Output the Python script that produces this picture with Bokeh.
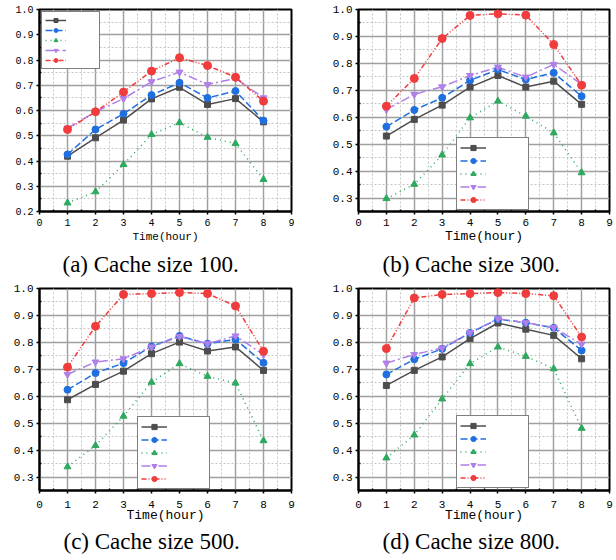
from bokeh.plotting import figure
from bokeh.models import FixedTicker, Legend, LegendItem, Title, PrintfTickFormatter, Range1d
from bokeh.layouts import column, row
from bokeh.embed import file_html
from bokeh.resources import INLINE

hours = [1, 2, 3, 4, 5, 6, 7, 8]
x_ticks = [0, 1, 2, 3, 4, 5, 6, 7, 8, 9]
x_label = "Time(hour)"

# (a) Cache size 100
a_gray = [0.419, 0.492, 0.562, 0.646, 0.692, 0.624, 0.647, 0.555]
a_blue = [0.426, 0.525, 0.587, 0.661, 0.710, 0.650, 0.677, 0.560]
a_green = [0.234, 0.278, 0.386, 0.505, 0.552, 0.494, 0.469, 0.327]
a_purple = [0.530, 0.595, 0.647, 0.714, 0.752, 0.703, 0.727, 0.650]
a_red = [0.525, 0.595, 0.673, 0.756, 0.809, 0.778, 0.732, 0.637]

# (b) Cache size 300
b_gray = [0.530, 0.592, 0.645, 0.712, 0.755, 0.712, 0.734, 0.648]
b_blue = [0.565, 0.627, 0.672, 0.737, 0.777, 0.740, 0.765, 0.678]
b_green = [0.298, 0.351, 0.460, 0.598, 0.660, 0.604, 0.542, 0.394]
b_purple = [0.629, 0.685, 0.713, 0.755, 0.786, 0.749, 0.796, 0.722]
b_red = [0.641, 0.744, 0.892, 0.978, 0.984, 0.979, 0.870, 0.719]

# (c) Cache size 500
c_gray = [0.587, 0.644, 0.693, 0.758, 0.801, 0.768, 0.783, 0.696]
c_blue = [0.624, 0.686, 0.723, 0.785, 0.824, 0.795, 0.811, 0.724]
c_green = [0.338, 0.417, 0.526, 0.652, 0.721, 0.674, 0.649, 0.435]
c_purple = [0.681, 0.727, 0.739, 0.783, 0.822, 0.795, 0.824, 0.755]
c_red = [0.708, 0.860, 0.978, 0.981, 0.985, 0.981, 0.935, 0.767]

# (d) Cache size 800
d_gray = [0.640, 0.696, 0.746, 0.814, 0.872, 0.849, 0.826, 0.739]
d_blue = [0.681, 0.737, 0.776, 0.835, 0.886, 0.873, 0.854, 0.770]
d_green = [0.371, 0.456, 0.590, 0.721, 0.783, 0.748, 0.702, 0.481]
d_purple = [0.723, 0.755, 0.779, 0.836, 0.888, 0.873, 0.855, 0.793]
d_red = [0.777, 0.965, 0.978, 0.981, 0.985, 0.981, 0.973, 0.820]

captions = ["(a) Cache size 100.", "(b) Cache size 300.",
            "(c) Cache size 500.", "(d) Cache size 800."]

STYLES = [
    dict(color="#4d4d4d", dash="solid", marker="square", size=6),
    dict(color="#1f6fe0", dash="7 3", marker="circle", size=7),
    dict(color="#2fa860", dash="1 4", marker="triangle", size=7),
    dict(color="#b07fe8", dash="9 3 2 3", marker="inverted_triangle", size=7),
    dict(color="#f03c3c", dash="5 2 1 2 1 2", marker="circle", size=8),
]


def make_panel(series, y_lo, y_ticks, caption, width, height, bl, br, bt, bb,
               tick_fs, lab_fs, tick_standoff, lab_standoff, cap_offset, cap_standoff,
               legend_loc, legend_margin, legend_dims):
    p = figure(width=width, height=height, x_range=Range1d(0, 9), y_range=Range1d(y_lo, 1.0),
               output_backend="svg", toolbar_location=None,
               min_border_left=bl, min_border_right=br, min_border_top=bt, min_border_bottom=bb)
    p.background_fill_color = "white"
    p.border_fill_color = "white"
    p.outline_line_color = "black"
    p.outline_line_width = 2

    y_minor = [round(t - 0.05, 2) for t in y_ticks if t - 0.05 >= y_lo - 1e-9]
    p.xaxis.ticker = FixedTicker(ticks=x_ticks, minor_ticks=[t + 0.5 for t in x_ticks[:-1]])
    p.yaxis.ticker = FixedTicker(ticks=y_ticks, minor_ticks=y_minor)
    p.yaxis.formatter = PrintfTickFormatter(format="%.1f")
    for ax in (p.xaxis, p.yaxis):
        ax.axis_line_color = "black"
        ax.axis_line_width = 2
        ax.major_tick_line_color = "black"
        ax.major_tick_line_width = 1.5
        ax.major_tick_out = 3
        ax.major_tick_in = 0
        ax.minor_tick_line_color = "black"
        ax.minor_tick_line_width = 1.5
        ax.minor_tick_in = 2
        ax.minor_tick_out = 0
        ax.major_label_text_font = "Liberation Mono"
        ax.major_label_text_font_size = tick_fs
        ax.major_label_text_color = "black"
    p.yaxis.major_label_standoff = 3
    p.xaxis.major_label_standoff = tick_standoff
    p.xaxis.axis_label = x_label
    p.xaxis.axis_label_text_font = "Liberation Mono"
    p.xaxis.axis_label_text_font_size = lab_fs
    p.xaxis.axis_label_text_font_style = "normal"
    p.xaxis.axis_label_text_color = "black"
    p.xaxis.axis_label_standoff = lab_standoff

    for g in (p.xgrid, p.ygrid):
        g.grid_line_color = "#a0a0a0"
        g.grid_line_width = 1.5
        g.minor_grid_line_color = "#c4c4c4"
        g.minor_grid_line_width = 1
        g.minor_grid_line_dash = "2 2"

    items = []
    for vals, st in zip(series, STYLES):
        ln = p.line(hours, vals, line_color=st["color"], line_width=1.5, line_dash=st["dash"])
        sc = p.scatter(hours, vals, marker=st["marker"], size=st["size"],
                       fill_color=st["color"], line_color=st["color"])
        items.append(LegendItem(label=" ", renderers=[ln, sc]))

    gw, gh, lw = legend_dims
    leg = Legend(items=items, location=legend_loc, margin=legend_margin, padding=3, spacing=0,
                 glyph_width=gw, glyph_height=gh, label_width=lw, label_height=4,
                 label_standoff=0, label_text_font_size="5px",
                 border_line_color="black", border_line_width=1.5,
                 background_fill_color="white", background_fill_alpha=1.0)
    p.add_layout(leg, "center")

    p.add_layout(Title(text=caption, align="left", offset=cap_offset,
                       text_font="Liberation Serif", text_font_size="23px",
                       text_font_style="normal", text_color="black",
                       standoff=cap_standoff), "below")
    return p


pa = make_panel([a_gray, a_blue, a_green, a_purple, a_red], 0.2,
                [0.2, 0.3, 0.4, 0.5, 0.6, 0.7, 0.8, 0.9, 1.0], captions[0],
                310, 282, 39, 19, 9, 71, "10px", "11px", 4, 2, 23, 8,
                "top_left", 2, (21, 10, 30))
pb = make_panel([b_gray, b_blue, b_green, b_purple, b_red], 0.25,
                [0.3, 0.4, 0.5, 0.6, 0.7, 0.8, 0.9, 1.0], captions[1],
                306, 282, 48, 7, 9, 71, "11px", "13px", 4, 0, 24, 7,
                (98, 1), 0, (26, 13, 39))
pc = make_panel([c_gray, c_blue, c_green, c_purple, c_red], 0.25,
                [0.3, 0.4, 0.5, 0.6, 0.7, 0.8, 0.9, 1.0], captions[2],
                310, 278, 39, 19, 6, 70, "11px", "13px", 7, -3, 24, 3,
                (98, 1), 0, (26, 13, 39))
pd_ = make_panel([d_gray, d_blue, d_green, d_purple, d_red], 0.25,
                 [0.3, 0.4, 0.5, 0.6, 0.7, 0.8, 0.9, 1.0], captions[3],
                 306, 278, 48, 7, 6, 70, "11px", "13px", 7, -3, 24, 3,
                 (98, 2), 0, (26, 13, 39))

layout = column(row(pa, pb), row(pc, pd_))
open("out.html", "w").write(file_html(layout, INLINE))
